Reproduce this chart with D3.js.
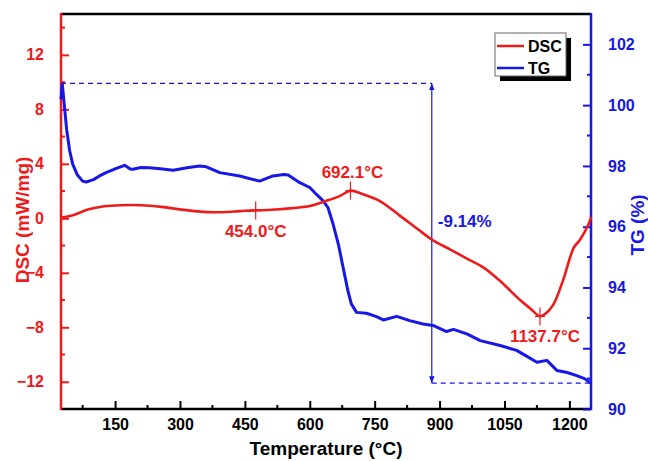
<!DOCTYPE html>
<html>
<head>
<meta charset="utf-8">
<script src="https://cdn.jsdelivr.net/npm/d3@7/dist/d3.min.js"></script>
<style>
  body { margin: 0; background: #fff; }
  text { font-family: "Liberation Sans", Arial, sans-serif; font-weight: bold; }
</style>
</head>
<body>
<div id="chart"></div>
<script>
const red = '#ee1b1b', blue = '#1717e8'

// DSC curve (°C, mW/mg)
const dscTemp  = [25, 56, 87, 125, 164, 210, 257, 303, 341, 380, 426, 449, 475, 520, 560, 600, 640, 670, 694, 720, 763, 808, 850, 882, 925, 960, 1001, 1040, 1086, 1109, 1132, 1145, 1163, 1186, 1210, 1225, 1244, 1250]
const dscValue = [0.05, 0.27, 0.64, 0.88, 0.96, 0.96, 0.84, 0.64, 0.51, 0.44, 0.5, 0.55, 0.58, 0.65, 0.75, 0.9, 1.3, 1.65, 2.03, 1.8, 1.25, 0.2, -0.8, -1.56, -2.3, -2.9, -3.6, -4.6, -6.0, -6.6, -7.2, -7.0, -6.34, -4.5, -2.17, -1.56, -0.46, 0.1]

// TG curve (°C, %)
const tgTemp  = [25, 28, 32, 38, 45, 52, 63, 75, 83, 100, 114, 129, 153, 172, 185, 191, 210, 230, 260, 284, 320, 345, 361, 392, 438, 484, 515, 540, 550, 577, 600, 615, 631, 642, 654, 666, 677, 688, 696, 708, 731, 754, 770, 801, 831, 862, 885, 916, 932, 963, 994, 1040, 1078, 1100, 1125, 1148, 1171, 1195, 1217, 1235, 1250]
const tgValue = [100.2, 100.7, 100.1, 99.2, 98.5, 98.06, 97.7, 97.5, 97.47, 97.55, 97.67, 97.78, 97.92, 98.02, 97.9, 97.89, 97.95, 97.94, 97.9, 97.86, 97.95, 98.0, 97.97, 97.78, 97.67, 97.5, 97.67, 97.72, 97.7, 97.45, 97.29, 97.07, 96.85, 96.63, 96.08, 95.43, 94.66, 93.9, 93.46, 93.18, 93.15, 93.04, 92.93, 93.05, 92.91, 92.8, 92.75, 92.55, 92.62, 92.47, 92.25, 92.09, 91.93, 91.75, 91.54, 91.6, 91.27, 91.2, 91.1, 91.0, 90.85]

const xTicks = [150, 300, 450, 600, 750, 900, 1050, 1200]
const xMinor = [75, 225, 375, 525, 675, 825, 975, 1125]
const dscTicks = [-12, -8, -4, 0, 4, 8, 12]
const dscMinor = [-10, -6, -2, 2, 6, 10, 14]
const tgTicks = [90, 92, 94, 96, 98, 100, 102]
const tgMinor = [91, 93, 95, 97, 99, 101]

// peak markers on DSC
const peakTemp = [475, 694, 1132]
const peakDsc = [0.58, 2.03, -7.2]
const peakLabels = ['454.0°C', '692.1°C', '1137.7°C']

// mass loss annotation
const lossTemp = 882
const lossTop = 100.72
const lossBottom = 90.85
const lossLabel = '-9.14%'

window.onload = function() {
  let w = 648, h = 461,
    margin = {top: 14, right: 57, bottom: 52, left: 61};

  const svg = d3.select('#chart').append('svg')
      .attr('width', w)
      .attr('height', h)

  const defs = svg.append('defs')
  defs.append('marker')
      .attr('id', 'arrow')
      .attr('viewBox', '0 0 10 10')
      .attr('refX', 10).attr('refY', 5)
      .attr('markerWidth', 7).attr('markerHeight', 7)
      .attr('markerUnits', 'userSpaceOnUse')
      .attr('orient', 'auto-start-reverse')
    .append('path')
      .attr('d', 'M0,1 L10,5 L0,9 Z')
      .attr('fill', blue)

  let x = d3.scaleLinear().domain([25, 1250]).range([margin.left, w - margin.right])
  let yDsc = d3.scaleLinear().domain([-14, 15]).range([h - margin.bottom, margin.top])
  let yTg = d3.scaleLinear().domain([90, 103]).range([h - margin.bottom, margin.top])

  let top = margin.top, bottom = h - margin.bottom,
    left = margin.left, right = w - margin.right;

  // top border
  svg.append('line')
      .attr('x1', left).attr('x2', right)
      .attr('y1', top).attr('y2', top)
      .attr('stroke', '#000').attr('stroke-width', 2.5)

  // x axis
  const gx = svg.append('g')
      .attr('transform', `translate(0,${bottom})`)
      .call(d3.axisBottom(x).tickValues(xTicks).tickFormat(d3.format('d')).tickSize(-8).tickPadding(10))
  gx.selectAll('.tick line').attr('stroke-width', 2)
  gx.selectAll('text').attr('font-size', 16).attr('fill', '#000')
  gx.select('.domain').remove()
  gx.selectAll('.minor').data(xMinor).enter().append('line')
      .attr('x1', d => x(d)).attr('x2', d => x(d))
      .attr('y1', 0).attr('y2', -4)
      .attr('stroke', '#000').attr('stroke-width', 2)
  svg.append('line')
      .attr('x1', left).attr('x2', right)
      .attr('y1', bottom).attr('y2', bottom)
      .attr('stroke', '#000').attr('stroke-width', 2.5)

  // left DSC axis
  const gl = svg.append('g')
      .attr('transform', `translate(${left},0)`)
      .call(d3.axisLeft(yDsc).tickValues(dscTicks).tickSize(-8).tickPadding(17))
  gl.select('.domain').remove()
  gl.selectAll('.tick line').attr('stroke', red).attr('stroke-width', 2)
  gl.selectAll('text').attr('font-size', 16).attr('fill', red)
  gl.selectAll('.minor').data(dscMinor).enter().append('line')
      .attr('x1', 0).attr('x2', 4)
      .attr('y1', d => yDsc(d)).attr('y2', d => yDsc(d))
      .attr('stroke', red).attr('stroke-width', 2)
  svg.append('line')
      .attr('x1', left).attr('x2', left)
      .attr('y1', top - 1).attr('y2', bottom + 1)
      .attr('stroke', red).attr('stroke-width', 2.5)

  // right TG axis
  const gr = svg.append('g')
      .attr('transform', `translate(${right},0)`)
      .call(d3.axisRight(yTg).tickValues(tgTicks).tickSize(-8).tickPadding(17))
  gr.select('.domain').remove()
  gr.selectAll('.tick line').attr('stroke', blue).attr('stroke-width', 2)
  gr.selectAll('text').attr('font-size', 16).attr('fill', blue)
  gr.selectAll('.minor').data(tgMinor).enter().append('line')
      .attr('x1', 0).attr('x2', -4)
      .attr('y1', d => yTg(d)).attr('y2', d => yTg(d))
      .attr('stroke', blue).attr('stroke-width', 2)
  svg.append('line')
      .attr('x1', right).attr('x2', right)
      .attr('y1', top - 1).attr('y2', bottom + 1)
      .attr('stroke', blue).attr('stroke-width', 2.5)

  // axis titles
  svg.append('text')
      .attr('x', (left + right) / 2).attr('y', 455)
      .attr('text-anchor', 'middle')
      .attr('font-size', 19)
      .text('Temperature (°C)')
  svg.append('text')
      .attr('transform', 'translate(29,220) rotate(-90)')
      .attr('text-anchor', 'middle')
      .attr('font-size', 19).attr('fill', red)
      .text('DSC (mW/mg)')
  svg.append('text')
      .attr('transform', 'translate(644,225) rotate(-90)')
      .attr('text-anchor', 'middle')
      .attr('font-size', 19).attr('fill', blue)
      .text('TG (%)')

  // mass loss annotation
  svg.append('line')
      .attr('x1', left).attr('x2', x(lossTemp))
      .attr('y1', yTg(lossTop)).attr('y2', yTg(lossTop))
      .attr('stroke', blue).attr('stroke-width', 1.2)
      .attr('stroke-dasharray', '5,4')
  svg.append('line')
      .attr('x1', x(lossTemp)).attr('x2', right)
      .attr('y1', yTg(lossBottom)).attr('y2', yTg(lossBottom))
      .attr('stroke', blue).attr('stroke-width', 1.2)
      .attr('stroke-dasharray', '5,4')
  svg.append('line')
      .attr('x1', x(lossTemp)).attr('x2', x(lossTemp))
      .attr('y1', yTg(lossTop)).attr('y2', yTg(lossBottom))
      .attr('stroke', blue).attr('stroke-width', 1.2)
      .attr('marker-start', 'url(#arrow)')
      .attr('marker-end', 'url(#arrow)')
  svg.append('text')
      .attr('x', x(lossTemp) + 6).attr('y', 227)
      .attr('font-size', 17).attr('fill', blue)
      .text(lossLabel)

  // curves
  let dscData = dscTemp.map((t, i) => [t, dscValue[i]])
  let tgData = tgTemp.map((t, i) => [t, tgValue[i]])

  let dscLine = d3.line()
      .x(d => x(d[0]))
      .y(d => yDsc(d[1]))
      .curve(d3.curveCatmullRom)
  let tgLine = d3.line()
      .x(d => x(d[0]))
      .y(d => yTg(d[1]))
      .curve(d3.curveLinear)

  svg.append('path')
      .datum(tgData)
      .attr('fill', 'none')
      .attr('stroke', blue)
      .attr('stroke-width', 3)
      .attr('stroke-linejoin', 'round')
      .attr('d', tgLine)

  svg.append('path')
      .datum(dscData)
      .attr('fill', 'none')
      .attr('stroke', red)
      .attr('stroke-width', 2.6)
      .attr('stroke-linejoin', 'round')
      .attr('d', dscLine)

  // peak markers
  let labelDx = [0, 2, 5], labelDy = [27, -13, 26]
  peakTemp.forEach(function(t, i) {
    let px = x(t), py = yDsc(peakDsc[i])
    svg.append('line')
        .attr('x1', px).attr('x2', px)
        .attr('y1', py - 9).attr('y2', py + 9)
        .attr('stroke', red).attr('stroke-width', 1.2)
    svg.append('line')
        .attr('x1', px - 5).attr('x2', px + 5)
        .attr('y1', py).attr('y2', py)
        .attr('stroke', red).attr('stroke-width', 1.2)
    svg.append('text')
        .attr('x', px + labelDx[i]).attr('y', py + labelDy[i])
        .attr('text-anchor', 'middle')
        .attr('font-size', 17).attr('fill', red)
        .text(peakLabels[i])
  })

  // legend
  const lg = svg.append('g').attr('transform', 'translate(495,33)')
  lg.append('rect')
      .attr('x', 5).attr('y', 5).attr('width', 71).attr('height', 43)
      .attr('fill', '#000')
  lg.append('rect')
      .attr('x', 0).attr('y', 0).attr('width', 71).attr('height', 43)
      .attr('fill', '#fff').attr('stroke', '#666').attr('stroke-width', 1)
  let legendItems = [['DSC', red], ['TG', blue]]
  legendItems.forEach(function(item, i) {
    let yy = 13 + i * 22
    lg.append('line')
        .attr('x1', 2).attr('x2', 29)
        .attr('y1', yy).attr('y2', yy)
        .attr('stroke', item[1]).attr('stroke-width', 2.5)
    lg.append('text')
        .attr('x', 33).attr('y', yy + 6)
        .attr('font-size', 16).attr('fill', '#000')
        .text(item[0])
  })
}
</script>
</body>
</html>
